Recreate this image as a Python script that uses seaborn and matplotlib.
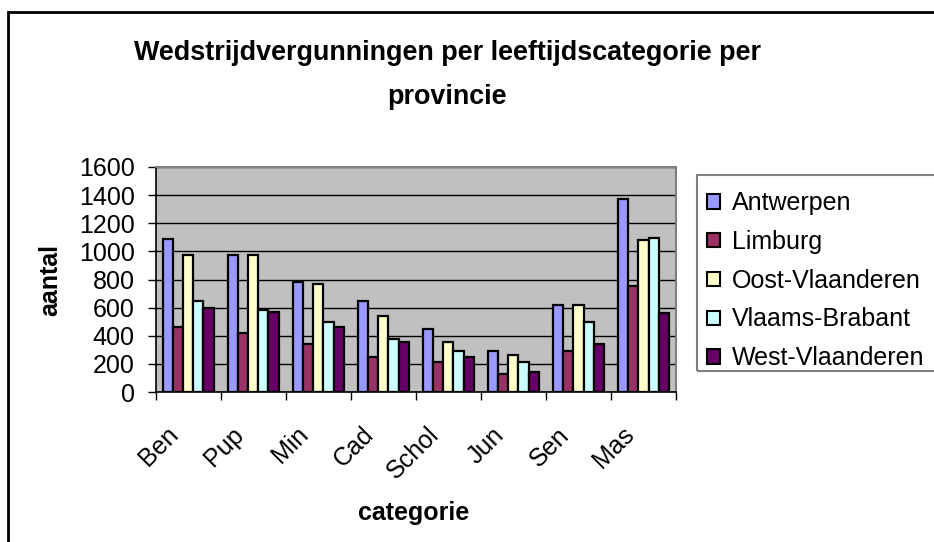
import matplotlib
matplotlib.use('Agg')
import matplotlib.pyplot as plt
import matplotlib.transforms as mtransforms
import seaborn as sns
import pandas as pd
from matplotlib.patches import Rectangle

# data
categories = ['Ben', 'Pup', 'Min', 'Cad', 'Schol', 'Jun', 'Sen', 'Mas']
provinces = ['Antwerpen', 'Limburg', 'Oost-Vlaanderen', 'Vlaams-Brabant', 'West-Vlaanderen']
antwerpen = [1090, 975, 780, 650, 450, 290, 620, 1375]
limburg = [460, 420, 340, 250, 210, 130, 290, 755]
oost_vlaanderen = [975, 975, 770, 540, 355, 265, 620, 1080]
vlaams_brabant = [650, 580, 500, 380, 290, 210, 500, 1095]
west_vlaanderen = [600, 570, 460, 355, 250, 145, 340, 565]
colors = ['#9999FF', '#993366', '#FFFFCC', '#CCFFFF', '#660066']

series = [antwerpen, limburg, oost_vlaanderen, vlaams_brabant, west_vlaanderen]
df = pd.DataFrame({
    'categorie': categories * len(provinces),
    'provincie': [p for p in provinces for _ in categories],
    'aantal': [v for s in series for v in s],
})

sns.set_style('white')
plt.rcParams['font.family'] = ['Liberation Sans', 'DejaVu Sans']
plt.rcParams['text.color'] = 'black'
plt.rcParams['xtick.color'] = 'black'
plt.rcParams['ytick.color'] = 'black'
plt.rcParams['axes.labelcolor'] = 'black'

W, H = 934, 542
fig = plt.figure(figsize=(W / 100, H / 100), dpi=100)
ax = fig.add_axes([155.7 / W, 1 - 392 / H, (676 - 155.7) / W, (392 - 167) / H])

sns.barplot(data=df, x='categorie', y='aantal', hue='provincie', hue_order=provinces,
            order=categories, palette=colors, width=0.78, edgecolor='black',
            linewidth=1.6, saturation=1, ax=ax, legend=True)

ax.set_facecolor('#C0C0C0')
ax.set_ylim(0, 1600)
ax.set_xlim(-0.5, len(categories) - 0.5)
ax.set_yticks(range(0, 1601, 200))
ax.yaxis.grid(True, color='black', linewidth=1)
ax.set_axisbelow(True)
for side in ['top', 'right']:
    ax.spines[side].set_color('#808080')
    ax.spines[side].set_linewidth(1.5)
for side in ['left', 'bottom']:
    ax.spines[side].set_color('black')
    ax.spines[side].set_linewidth(1.2)

# ticks between categories on x, outward ticks on y
ax.set_xticks([i + 0.5 for i in range(-1, len(categories))], minor=True)
ax.tick_params(axis='x', which='major', length=0, labelsize=18, pad=22)
ax.tick_params(axis='x', which='minor', length=6, width=1, direction='out', bottom=True)
ax.tick_params(axis='y', length=6, width=1, direction='out', left=True, labelsize=18, pad=9)
shift = mtransforms.ScaledTranslation(-22 / 100, 0, fig.dpi_scale_trans)
for lab in ax.get_xticklabels():
    lab.set_rotation(45)
    lab.set_ha('right')
    lab.set_rotation_mode('anchor')
    lab.set_transform(lab.get_transform() + shift)

ax.set_xlabel('categorie', fontsize=18, fontweight='bold', va='center')
ax.xaxis.set_label_coords((414 - 155.7) / 520.3, (392 - 513) / 225)
ax.set_ylabel('aantal', fontsize=18, fontweight='bold', va='center')
ax.yaxis.set_label_coords((50 - 155.7) / 520.3, 0.5)

fig.text(447 / W, 1 - 75 / H, 'Wedstrijdvergunningen per leeftijdscategorie per\nprovincie',
         ha='center', va='center', fontsize=19.4, fontweight='bold', linespacing=1.88)

handles, labels = ax.get_legend_handles_labels()
ax.legend_.remove()
leg = fig.legend(handles, labels, loc='upper left', bbox_to_anchor=(691 / W, 1 - 175 / H),
                 fontsize=18, frameon=False, borderpad=0.65,
                 labelspacing=0.59, handlelength=0.5, handleheight=0.5,
                 handletextpad=0.5, borderaxespad=0)
for h in leg.legend_handles:
    h.set_edgecolor('black')
    h.set_linewidth(1.5)

# legend frame (runs off the right edge like the original)
fig.patches.append(Rectangle((697 / W, 1 - 371 / H), 0.5, (371 - 175) / H,
                             transform=fig.transFigure, fill=False,
                             edgecolor='#808080', linewidth=1.5))

# chart border
fig.patches.append(Rectangle((8 / W, -0.1), 1.2, (H - 12) / H + 0.1, transform=fig.transFigure,
                             fill=False, edgecolor='black', linewidth=2))

fig.savefig('out.png', dpi=100)
